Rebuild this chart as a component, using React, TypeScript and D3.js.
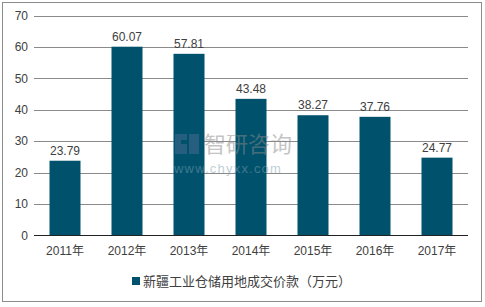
import React from "react";
import * as d3 from "d3";

const categories = ["2011年", "2012年", "2013年", "2014年", "2015年", "2016年", "2017年"];
const values = [23.79, 60.07, 57.81, 43.48, 38.27, 37.76, 24.77];
const yTicks = [0, 10, 20, 30, 40, 50, 60, 70];
const seriesName = "新疆工业仓储用地成交价款（万元）";

const W = 485;
const H = 307;
const FONT = "'Liberation Sans', Arial, 'Noto Sans CJK SC', sans-serif";

export default function App() {
  const x = d3.scaleBand<string>().domain(categories).range([34, 468]).paddingInner(0.5).paddingOuter(0.25);
  const y = d3.scaleLinear().domain([0, 70]).range([235.5, 15.5]);
  const color = "#00526C";
  const text = "#404040";
  return (
    <svg width={W} height={H} style={{ position: "absolute", left: 0, top: 0 }}>
      <rect x={2.5} y={2.5} width={479} height={299} fill="#fff" stroke="#8c8c8c" strokeWidth={1} />
      {yTicks.map((t) => (
        <g key={t}>
          {t > 0 && (
            <line x1={34} x2={468} y1={Math.round(y(t)) + 0.5} y2={Math.round(y(t)) + 0.5} stroke="#8a8a8a" strokeWidth={1} />
          )}
          <text x={28} y={y(t)} dy="0.35em" textAnchor="end" fontSize={12} fill={text} fontFamily={FONT}>
            {t}
          </text>
        </g>
      ))}
      {categories.map((c, i) => (
        <g key={c}>
          <rect x={x(c)} y={y(values[i])} width={x.bandwidth()} height={y(0) - y(values[i])} fill={color} />
          <text x={(x(c) as number) + x.bandwidth() / 2} y={y(values[i]) - 6} textAnchor="middle" fontSize={12} fill={text} fontFamily={FONT}>
            {values[i].toFixed(2)}
          </text>
          <text x={(x(c) as number) + x.bandwidth() / 2} y={251} dy="0.35em" textAnchor="middle" fontSize={12} fill={text} fontFamily={FONT}>
            {c}
          </text>
        </g>
      ))}
      <line x1={34} x2={468} y1={235.5} y2={235.5} stroke="#222" strokeWidth={1} />
      <g opacity={0.5}>
        <path d="M175,134 h12 v6 h-6 v4 h6 v10 h-12 z M189,134 h10 v20 h-10 z" fill="#4a6a90" />
        <text x={204} y={152} fontSize={22} fill="#8a8a8a" fontFamily="'Noto Sans CJK SC', sans-serif">
          智研咨询
        </text>
        <text x={174} y={173} fontSize={13} fill="#7f9fb0" fontFamily={FONT} letterSpacing={1.2}>
          www.chyxx.com
        </text>
      </g>
      <rect x={132} y={277} width={8} height={8} fill={color} />
      <text x={143} y={281.5} dy="0.35em" fontSize={13} fill={text} fontFamily="'Noto Sans CJK SC', sans-serif">
        {seriesName}
      </text>
    </svg>
  );
}
